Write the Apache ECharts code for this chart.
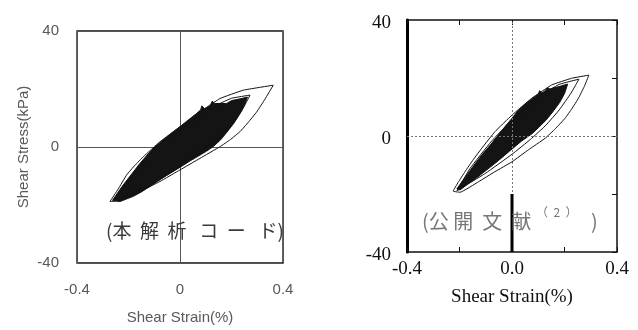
<!DOCTYPE html>
<html><head><meta charset="utf-8">
<script src="https://cdn.jsdelivr.net/npm/echarts@6/dist/echarts.min.js"></script>
<style>html,body{margin:0;padding:0;background:#fff}#c{width:638px;height:330px}</style>
</head><body><div id="c"></div>
<script>
// ---- data (strain %, stress kPa) ----
const leftXTicks = ['-0.4', '0', '0.4'];
const leftYTicks = ['-40', '0', '40'];
const rightXTicks = ['-0.4', '0.0', '0.4'];
const rightYTicks = ['-40', '0', '40'];

const leftFill = [[-0.262,-18.4],[-0.225,-13.6],[-0.19,-9.6],[-0.155,-5.6],[-0.12,-2.0],[-0.088,0.8],[-0.055,3.2],[-0.025,5.3],[0,7.0],[0.035,9.5],[0.065,11.6],[0.08,12.8],[0.085,14.2],[0.095,13.2],[0.117,14.2],[0.125,15.8],[0.135,15.0],[0.181,15.0],[0.2,16.0],[0.233,16.6],[0.262,17.2],[0.25,14.4],[0.232,11.4],[0.21,8.3],[0.183,5.2],[0.157,2.4],[0.13,0.2],[0.104,-1.4],[0.07,-3.2],[0.039,-4.8],[0,-7.0],[-0.052,-9.8],[-0.085,-11.7],[-0.117,-13.6],[-0.15,-15.5],[-0.181,-17.0],[-0.233,-18.8],[-0.262,-18.4]];
const leftLoopA = [[0.362,21.3],[0.33,16.5],[0.298,12.1],[0.265,8.5],[0.233,5.3],[0.195,2.5],[0.155,0.1],[0.078,-3.9],[0,-7.9],[-0.078,-11.9],[-0.155,-15.3],[-0.233,-18.5],[-0.272,-18.8],[-0.24,-14.5],[-0.207,-9.6],[-0.175,-6.3],[-0.142,-3.3],[-0.078,1.8],[0,7.0],[0.078,12.1],[0.155,16.7],[0.246,19.6],[0.362,21.3]];
const leftLoopB = [[0.272,17.9],[0.24,12.5],[0.2,7.5],[0.15,3.2],[0.1,0],[0,-6.8],[-0.12,-13.5],[-0.255,-18.4],[-0.2,-11.5],[-0.1,-0.5],[0,5.8],[0.12,13.5],[0.2,16.8],[0.272,17.9]];

const rightFill = [[-0.21,-18.2],[-0.178,-14.2],[-0.146,-10.2],[-0.113,-6.3],[-0.08,-2.8],[-0.052,0.4],[-0.027,3.2],[0,6.1],[0.024,8.9],[0.05,11.0],[0.075,12.8],[0.1,14.4],[0.105,15.6],[0.115,14.9],[0.126,15.6],[0.135,16.6],[0.145,16.2],[0.189,17.3],[0.212,17.9],[0.2,14.6],[0.182,11.6],[0.156,8.4],[0.13,5.5],[0.1,2.8],[0.075,0.7],[0.037,-1.7],[0,-4.5],[-0.052,-8.5],[-0.085,-10.9],[-0.115,-13.0],[-0.14,-14.8],[-0.166,-16.4],[-0.198,-18.6],[-0.21,-18.2]];
const rightLoopA = [[0.293,21.0],[0.275,17.0],[0.253,13.0],[0.228,9.4],[0.202,6.1],[0.165,2.5],[0.126,-0.8],[0.062,-4.8],[0,-8.9],[-0.065,-12.3],[-0.128,-15.8],[-0.198,-19.4],[-0.224,-19.0],[-0.205,-16.0],[-0.179,-12.3],[-0.148,-8.2],[-0.115,-4.2],[-0.065,1.5],[0,7.2],[0.075,13.0],[0.151,17.6],[0.227,19.9],[0.293,21.0]];
const rightLoopB = [[0.255,19.6],[0.225,14.8],[0.18,9.0],[0.13,3.8],[0.07,-1.2],[0,-6.3],[-0.1,-12.8],[-0.21,-18.9],[-0.16,-11.2],[-0.08,-2.0],[0,5.6],[0.1,13.6],[0.18,17.8],[0.255,19.6]];
const rightBarSeg = [[0,-20],[0,-40]];

const chart = echarts.init(document.getElementById('c'), null, {renderer:'canvas'});

function fillSeries(data, xi, yi) {
  return {
    type: 'custom', xAxisIndex: xi, yAxisIndex: yi, data: data, silent: true, z: 3,
    renderItem: function (params, api) {
      if (params.dataIndex !== 0) return null;
      const pts = data.map(p => api.coord(p));
      return { type: 'polygon', shape: { points: pts }, style: { fill: '#141414', stroke: '#141414', lineWidth: 1 } };
    }
  };
}
function loopSeries(data, xi, yi) {
  return { type: 'line', xAxisIndex: xi, yAxisIndex: yi, data: data, symbol: 'none', smooth: 0.1,
    lineStyle: { color: '#111', width: 1 }, z: 4, silent: true };
}

const sansLbl = { color: '#595959', fontSize: 15, fontFamily: 'Liberation Sans' };
const serifLbl = { color: '#111', fontSize: 19, fontFamily: 'Liberation Serif' };

chart.setOption({
  animation: false,
  grid: [
    { left: 77, top: 31, width: 206, height: 233, show: true, borderColor: '#111', borderWidth: 1.3, backgroundColor: '#fff' },
    { left: 407, top: 20, width: 210, height: 232, show: true, borderColor: '#111', borderWidth: 1.5, backgroundColor: '#fff' }
  ],
  xAxis: [
    { gridIndex: 0, type: 'value', min: -0.4, max: 0.4, interval: 0.4,
      axisLine: { show: false, onZero: false }, axisTick: { show: false },
      splitLine: { show: true, lineStyle: { color: '#555', width: 1 } },
      axisLabel: Object.assign({ margin: 19, formatter: (v) => leftXTicks[Math.round((v + 0.4) / 0.4)] }, sansLbl),
      name: 'Shear Strain(%)', nameLocation: 'middle', nameGap: 47,
      nameTextStyle: { color: '#595959', fontSize: 15, fontFamily: 'Liberation Sans' } },
    { gridIndex: 1, type: 'value', min: -0.4, max: 0.4, interval: 0.2,
      axisLine: { show: false, onZero: false }, axisTick: { show: true, inside: true, length: 5, lineStyle: { color: '#111' } },
      splitLine: { show: false },
      axisLabel: Object.assign({ margin: 8, formatter: (v) => { const i = Math.round((v + 0.4) / 0.4 * 1000) / 1000; return Number.isInteger(i) ? rightXTicks[i] : ''; } }, serifLbl),
      name: 'Shear Strain(%)', nameLocation: 'middle', nameGap: 36,
      nameTextStyle: { color: '#111', fontSize: 19, fontFamily: 'Liberation Serif' } },
    { gridIndex: 1, type: 'value', position: 'top', min: -0.4, max: 0.4, interval: 0.2,
      axisLine: { show: false, onZero: false }, axisTick: { show: true, inside: true, length: 5, lineStyle: { color: '#111' } },
      splitLine: { show: false }, axisLabel: { show: false } }
  ],
  yAxis: [
    { gridIndex: 0, type: 'value', min: -40, max: 40, interval: 40,
      axisLine: { show: false, onZero: false }, axisTick: { show: false },
      splitLine: { show: true, lineStyle: { color: '#555', width: 1 } },
      axisLabel: Object.assign({ margin: 18, formatter: (v) => leftYTicks[Math.round((v + 40) / 40)] }, sansLbl),
      name: 'Shear Stress(kPa)', nameLocation: 'middle', nameGap: 46,
      nameTextStyle: { color: '#595959', fontSize: 15, fontFamily: 'Liberation Sans' } },
    { gridIndex: 1, type: 'value', min: -40, max: 40, interval: 20,
      axisLine: { show: true, onZero: false, lineStyle: { color: '#000', width: 3 } },
      axisTick: { show: false },
      splitLine: { show: false },
      axisLabel: Object.assign({ margin: 16,
        rich: { a: { fontSize: 19, fontFamily: 'Liberation Serif', color: '#111', padding: [6, 0, 0, 0] } },
        formatter: (v) => { const i = (v + 40) / 40; return Number.isInteger(i) ? '{a|' + rightYTicks[i] + '}' : ''; } }, serifLbl) },
    { gridIndex: 1, type: 'value', position: 'right', min: -40, max: 40, interval: 20,
      axisLine: { show: false, onZero: false }, axisTick: { show: true, inside: true, length: 5, lineStyle: { color: '#111' } },
      splitLine: { show: false }, axisLabel: { show: false } }
  ],
  series: [
    fillSeries(leftFill, 0, 0),
    loopSeries(leftLoopA, 0, 0),
    loopSeries(leftLoopB, 0, 0),
    fillSeries(rightFill, 1, 1),
    Object.assign(loopSeries(rightLoopA, 1, 1), {
      markLine: { silent: true, symbol: 'none', label: { show: false },
        lineStyle: { color: '#777', type: [2, 2], width: 1 },
        data: [{ xAxis: 0 }, { yAxis: 0 }] } }),
    loopSeries(rightLoopB, 1, 1),
    { type: 'line', xAxisIndex: 1, yAxisIndex: 1, data: rightBarSeg, symbol: 'none',
      lineStyle: { color: '#000', width: 3 }, z: 5, silent: true }
  ],
  graphic: [
    { type: 'text', left: 106, top: 221, z: 10,
      style: { text: '(本  解  析   コ  ー   ド)', fill: '#3a3a3a', font: '19px "Noto Sans CJK JP"' } },
    { type: 'text', left: 422, top: 211, z: 10,
      style: { text: '(公 開  文  献', fill: '#777', font: '20px "Noto Sans CJK JP"' } },
    { type: 'text', left: 536, top: 206, z: 10,
      style: { text: '（  2  ）', fill: '#777', font: '12px "Noto Sans CJK JP"' } },
    { type: 'text', left: 591, top: 211, z: 10,
      style: { text: ')', fill: '#777', font: '20px "Noto Sans CJK JP"' } }
  ]
});
</script></body></html>
